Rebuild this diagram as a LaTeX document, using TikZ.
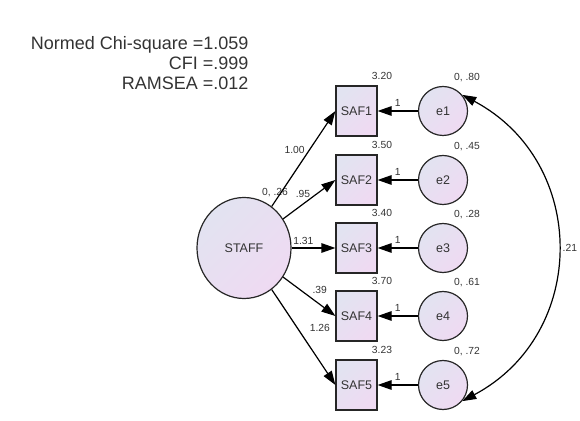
\documentclass[tikz,border=0pt]{standalone}
\usepackage{fontspec}
\setmainfont{Liberation Sans}
\usetikzlibrary{arrows.meta,shapes.geometric}
\definecolor{fillA}{HTML}{E2E3F1}
\definecolor{fillB}{HTML}{EFDAF2}
\definecolor{txt}{HTML}{333333}
\tikzset{
  shadefill/.style={top color=fillA, bottom color=fillB, shading angle=45},
  obs/.style={draw=black!85, line width=1.2pt, shadefill, minimum width=41pt, minimum height=50pt, inner sep=0pt, text=txt, font=\fontsize{12.5}{14}\selectfont},
  err/.style={circle, draw=black!85, line width=1.2pt, shadefill, minimum size=49pt, inner sep=0pt, text=txt, font=\fontsize{12.5}{14}\selectfont},
  lat/.style={ellipse, draw=black!85, line width=1.2pt, shadefill, minimum width=94pt, minimum height=101pt, inner sep=0pt, text=txt, font=\fontsize{12.5}{14}\selectfont},
  path/.style={-{Triangle[length=14pt,width=9.5pt]}, line width=1.2pt},
  lbl/.style={font=\fontsize{10.3}{12}\selectfont, text=txt, inner sep=0pt},
}
\begin{document}
\begin{tikzpicture}[x=1pt,y=1pt]
  \useasboundingbox (0,0) rectangle (580,420);
  \node[anchor=east, align=right, text=txt, font=\fontsize{18}{20}\selectfont] (fit) at (252,357) {Normed Chi-square =1.059\\CFI =.999\\RAMSEA =.012};
  \node[lat] (staff) at (244,172) {STAFF};
  \node[lbl] (vstaff) at (275,227) {0, .26};
  \foreach \i/\y/\m/\v in {1/309/3.20/.80, 2/240/3.50/.45, 3/172/3.40/.28, 4/104/3.70/.61, 5/35/3.23/.72}{
    \node[obs] (saf\i) at (356.5,\y) {SAF\i};
    \node[err] (e\i) at (443,\y) {e\i};
    \node[lbl] (m\i) at (382,\y+35) {\m};
    \node[lbl] (v\i) at (467,\y+33) {0, \v};
    \draw[path] (e\i) -- node[lbl, above=4pt] {1} (saf\i);
  }
  \draw[path] (staff) -- node[lbl, pos=0.59, left=4pt] {1.00} (saf1.west);
  \draw[path] (staff) -- node[lbl, pos=0.38, above=6pt] {.95} (saf2.west);
  \draw[path] (staff) -- node[lbl, pos=0.27, above=3pt] {1.31} (saf3.west);
  \draw[path] (staff) -- node[lbl, pos=0.7, above=10pt] {.39} (saf4.west);
  \draw[path] (staff) -- node[lbl, pos=0.4, right=12pt] {1.26} (saf5.west);
  \draw[{Triangle[length=14pt,width=9.5pt]}-{Triangle[length=14pt,width=9.5pt]}, line width=1.2pt] (e1.40) to[out=-28, in=28, looseness=1.2] node[lbl, right=5pt] (cov) {.21} (e5.-40);
\end{tikzpicture}
\end{document}
